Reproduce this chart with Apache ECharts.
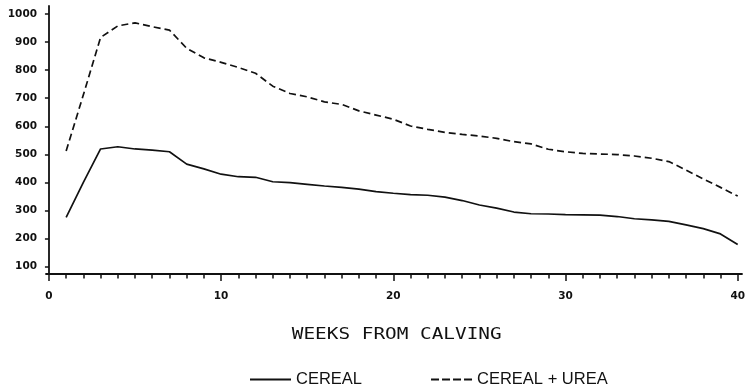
<!DOCTYPE html>
<html>
<head>
<meta charset="utf-8">
<script src="https://cdn.jsdelivr.net/npm/echarts@6/dist/echarts.min.js"></script>
<style>
  html, body { margin: 0; padding: 0; background: #fff; }
  #chart { width: 748px; height: 389px; }
</style>
</head>
<body>
<div id="chart"></div>
<script>
// Weekly intake, weeks 1..40 after calving
const weeks = [1,2,3,4,5,6,7,8,9,10,11,12,13,14,15,16,17,18,19,20,
               21,22,23,24,25,26,27,28,29,30,31,32,33,34,35,36,37,38,39,40];
const cereal = [275,400,519,527,519,515,509,465,448,429,420,418,402,399,393,387,382,376,367,361,
                356,354,347,335,319,308,294,288,287,285,284,283,278,270,266,261,248,235,216,178];
const cerealUrea = [512,712,917,958,969,955,943,878,844,828,810,789,743,717,705,687,678,655,640,625,
                    601,589,578,571,565,557,545,537,518,509,503,501,499,494,486,474,444,412,382,351];
const yTicks = [100,200,300,400,500,600,700,800,900,1000];
const xMajorTicks = [0,10,20,30,40];
const xMinorTicks = Array.from({length: 41}, (_, i) => i);
const xTitle = 'WEEKS FROM CALVING';
const seriesNames = ['CEREAL', 'CEREAL + UREA'];

const ink = '#111';
const labelFont = { color: ink, fontFamily: 'DejaVu Sans', fontWeight: 'bold', fontSize: 10.5 };
const plain = v => String(v);

// Legend swatches: a solid rule and a four-dash rule
const solidIcon = 'path://M0,0h40v1.6h-40z';
const dashIcon = 'path://M0,0h8v1.6h-8z M11,0h8v1.6h-8z M22,0h8v1.6h-8z M33,0h8v1.6h-8z';

const chart = echarts.init(document.getElementById('chart'), null, { renderer: 'canvas' });
chart.setOption({
  animation: false,
  backgroundColor: '#fff',
  grid: { left: 46, right: 1.5, top: 6, bottom: 115, containLabel: false },
  xAxis: [
    {
      type: 'value', min: -0.17, max: 40.25,
      axisLine: { show: true, lineStyle: { color: ink, width: 1.8 } },
      axisTick: { show: true, customValues: xMajorTicks, length: 7, lineStyle: { color: ink, width: 1.5 } },
      axisLabel: Object.assign({ customValues: xMajorTicks, margin: 17, formatter: plain }, labelFont),
      splitLine: { show: false }
    },
    {
      type: 'value', min: -0.17, max: 40.25, position: 'bottom',
      axisLine: { show: false },
      axisTick: { show: true, customValues: xMinorTicks, length: 4.5, lineStyle: { color: ink, width: 1.5 } },
      axisLabel: { show: false },
      splitLine: { show: false }
    }
  ],
  yAxis: {
    type: 'value', min: 73, max: 1029,
    axisLine: { show: true, lineStyle: { color: ink, width: 1.8 } },
    axisTick: { show: true, customValues: yTicks, length: 4, lineStyle: { color: ink, width: 1.5 } },
    axisLabel: Object.assign({ customValues: yTicks, margin: 9, formatter: plain }, labelFont),
    splitLine: { show: false }
  },
  legend: {
    left: 245, top: 366,
    itemGap: 69, itemWidth: 41, itemHeight: 2,
    symbolKeepAspect: false,
    itemStyle: { color: ink, borderWidth: 0 },
    textStyle: { color: ink, fontFamily: "'Liberation Sans', sans-serif", fontSize: 16.5 },
    data: [
      { name: seriesNames[0], icon: solidIcon },
      { name: seriesNames[1], icon: dashIcon }
    ]
  },
  graphic: [{
    type: 'text', x: 396.7, y: 335, scaleX: 1.21, scaleY: 1,
    style: {
      text: xTitle, fill: ink, font: '16px "DejaVu Sans Mono"',
      textAlign: 'center', textVerticalAlign: 'middle'
    }
  }],
  series: [
    {
      name: seriesNames[0], type: 'line', symbol: 'none',
      data: weeks.map((w, i) => [w, cereal[i]]),
      lineStyle: { color: ink, width: 1.7, type: 'solid' },
      itemStyle: { color: ink }
    },
    {
      name: seriesNames[1], type: 'line', symbol: 'none',
      data: weeks.map((w, i) => [w, cerealUrea[i]]),
      lineStyle: { color: ink, width: 1.7, type: [7, 4] },
      itemStyle: { color: ink }
    }
  ]
});
</script>
</body>
</html>
